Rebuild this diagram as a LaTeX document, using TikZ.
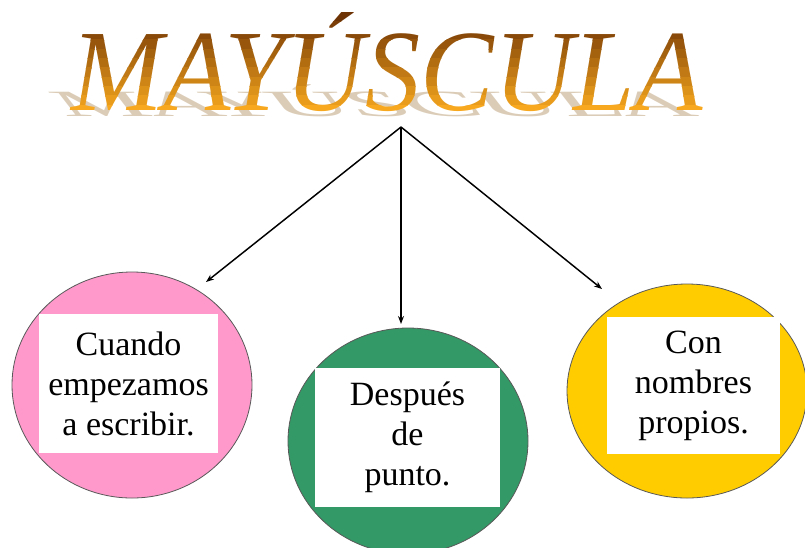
\documentclass[tikz,border=0pt]{standalone}
\usepackage{fontspec}
\setmainfont{Liberation Serif}
\usepackage{xcolor}
\usetikzlibrary{shapes.geometric, arrows.meta, positioning}

\definecolor{pinkfill}{HTML}{FF99CC}
\definecolor{greenfill}{HTML}{339966}
\definecolor{yellowfill}{HTML}{FFCC00}
\definecolor{titletop}{HTML}{6E3304}
\definecolor{titlebot}{HTML}{F7A81E}
\definecolor{shadowtan}{HTML}{B89A70}

\begin{document}
\begin{tikzpicture}[x=0.75pt, y=-0.75pt, >={Stealth[length=6pt, width=4.5pt]},
    bubble/.style={ellipse, draw=black!65, line width=0.6pt, inner sep=0pt,
        minimum width=180pt, minimum height=169.5pt},
    card/.style={fill=white, inner sep=0pt, align=center,
        font=\fontsize{25.5}{30}\selectfont},
    titlefont/.style={font=\fontsize{87}{90}\selectfont\itshape}]

    \useasboundingbox (0,0) rectangle (805,547);

    % =================================================================
    % 1. TOA DO CAC DIEM CHINH
    % =================================================================
    \coordinate (apex) at (401,127);
    \coordinate (pinktip) at (206,282);
    \coordinate (greentip) at (401,324);
    \coordinate (yellowtip) at (602,289);

    % =================================================================
    % 2. TIEU DE MAYUSCULA (BONG + MAU CHUYEN)
    % =================================================================
    % Bong phan chieu nam nghieng phia sau chu
    \begin{scope}[shift={(384,116)}, xslant=-1.3, transform shape, opacity=0.5]
        \node[titlefont, text=shadowtan, anchor=base] (titleshadow) at (0,0)
            {\scalebox{0.95}[0.32]{MAYÚSCULA}};
    \end{scope}

    % Chu chinh: to theo tung dai ngang tu nau dam xuong cam
    \foreach \i in {0,...,10} {
        \pgfmathtruncatemacro{\pct}{100*\i/10}
        \pgfmathsetmacro{\ytop}{12+9.3*\i}
        \begin{scope}
            \clip (0,\ytop) rectangle (805,\ytop+9.6);
            \node[titlefont, text=titlebot!\pct!titletop, anchor=base] (title\i)
                at (387,110) {\scalebox{0.95}[1]{MAYÚSCULA}};
        \end{scope}
    }

    % =================================================================
    % 3. CAC HINH ELIP VA O CHU
    % =================================================================
    \node[bubble, fill=pinkfill] (pink) at (132,385) {};
    \node[bubble, fill=greenfill] (green) at (408,441) {};
    \node[bubble, fill=yellowfill, minimum height=160.5pt] (yellow) at (687,391) {};

    \node[card, minimum width=134.25pt, minimum height=104.25pt] (pinkbox)
        at (128.5,383.5) {Cuando\\empezamos\\a escribir.};
    \node[card, minimum width=138.75pt, minimum height=104.25pt] (greenbox)
        at (407.5,437.5) {Después\\de\\punto.};
    \node[card, minimum width=129.75pt, minimum height=102.75pt] (yellowbox)
        at (693.5,385.5) {Con\\nombres\\propios.};

    % =================================================================
    % 4. MUI TEN TU TIEU DE
    % =================================================================
    \draw[->, line width=1.1pt] (apex) -- (pinktip);
    \draw[->, line width=1.1pt] (apex) -- (greentip);
    \draw[->, line width=1.1pt] (apex) -- (yellowtip);

\end{tikzpicture}
\end{document}
